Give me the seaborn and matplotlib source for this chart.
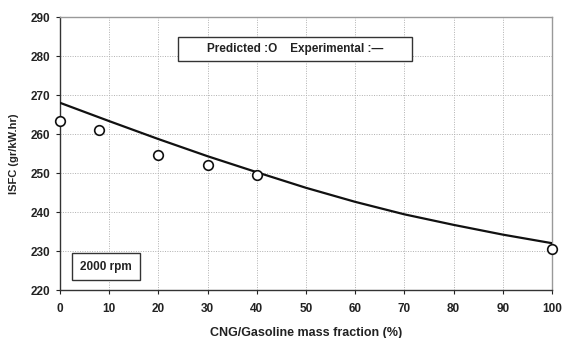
import matplotlib
matplotlib.use("Agg")
import matplotlib.pyplot as plt
from matplotlib.patches import Rectangle
import seaborn as sns
import pandas as pd

# Experimental ISFC curve (CNG mass fraction %, g/kW.hr)
exp_fraction = [0, 10, 20, 30, 40, 50, 60, 70, 80, 90, 100]
exp_isfc = [268.0, 263.3, 258.7, 254.3, 250.2, 246.2, 242.6, 239.4, 236.7, 234.2, 232.0]

# Predicted ISFC points
pred_fraction = [0, 8, 20, 30, 40, 100]
pred_isfc = [263.4, 261.1, 254.6, 252.0, 249.5, 230.5]

x_ticks = [0, 10, 20, 30, 40, 50, 60, 70, 80, 90, 100]
y_ticks = [220, 230, 240, 250, 260, 270, 280, 290]

sns.set_theme(style="white")
plt.rcParams["font.family"] = ["Liberation Sans", "DejaVu Sans"]
plt.rcParams["font.weight"] = "bold"

exp_df = pd.DataFrame({"fraction": exp_fraction, "isfc": exp_isfc})
pred_df = pd.DataFrame({"fraction": pred_fraction, "isfc": pred_isfc})

fig = plt.figure(figsize=(5.63, 3.38), dpi=100)
ax = fig.add_axes([0.1066, 0.142, 0.8739, 0.8077])

sns.lineplot(data=exp_df, x="fraction", y="isfc", ax=ax, color="#111111",
             linewidth=1.6, zorder=3)
sns.scatterplot(data=pred_df, x="fraction", y="isfc", ax=ax, marker="o",
                s=48, facecolor="white", edgecolor="#111111", linewidth=1.2,
                zorder=4, clip_on=False)

ax.set_xlim(0, 100)
ax.set_ylim(220, 290)
ax.set_xticks(x_ticks)
ax.set_yticks(y_ticks)
ax.tick_params(axis="both", labelsize=8.5, colors="#222222", length=3,
               width=0.8, direction="out", bottom=True, left=True)
ax.tick_params(axis="x", pad=6)
ax.tick_params(axis="y", pad=4)
for lbl in ax.get_xticklabels() + ax.get_yticklabels():
    lbl.set_fontweight("bold")

ax.grid(True, color="#b0b0b0", linestyle=(0, (1, 1.5)), linewidth=0.7)
ax.set_axisbelow(True)

for side in ("left", "bottom"):
    ax.spines[side].set_color("#333333")
    ax.spines[side].set_linewidth(1.0)
for side in ("top", "right"):
    ax.spines[side].set_color("#999999")
    ax.spines[side].set_linewidth(1.0)

ax.set_xlabel("CNG/Gasoline mass fraction (%)", fontsize=9, fontweight="bold",
              color="#222222", labelpad=9)
ax.set_ylabel("ISFC (gr/kW.hr)", fontsize=8, fontweight="bold",
              color="#222222", labelpad=8)

# Legend-style note box
ax.add_patch(Rectangle((24.0, 278.7), 47.5, 6.2, facecolor="white",
                       edgecolor="#333333", linewidth=1.0, zorder=5))
ax.text(47.8, 281.8, "Predicted :O    Experimental :\u2014", fontsize=8.5,
        fontweight="bold", color="#222222", ha="center", va="center", zorder=6)

# Engine speed box
ax.add_patch(Rectangle((2.4, 222.6), 13.9, 6.9, facecolor="white",
                       edgecolor="#333333", linewidth=1.0, zorder=5))
ax.text(9.35, 226.0, "2000 rpm", fontsize=8.5, fontweight="bold",
        color="#222222", ha="center", va="center", zorder=6)

fig.savefig("out.png", dpi=100)
